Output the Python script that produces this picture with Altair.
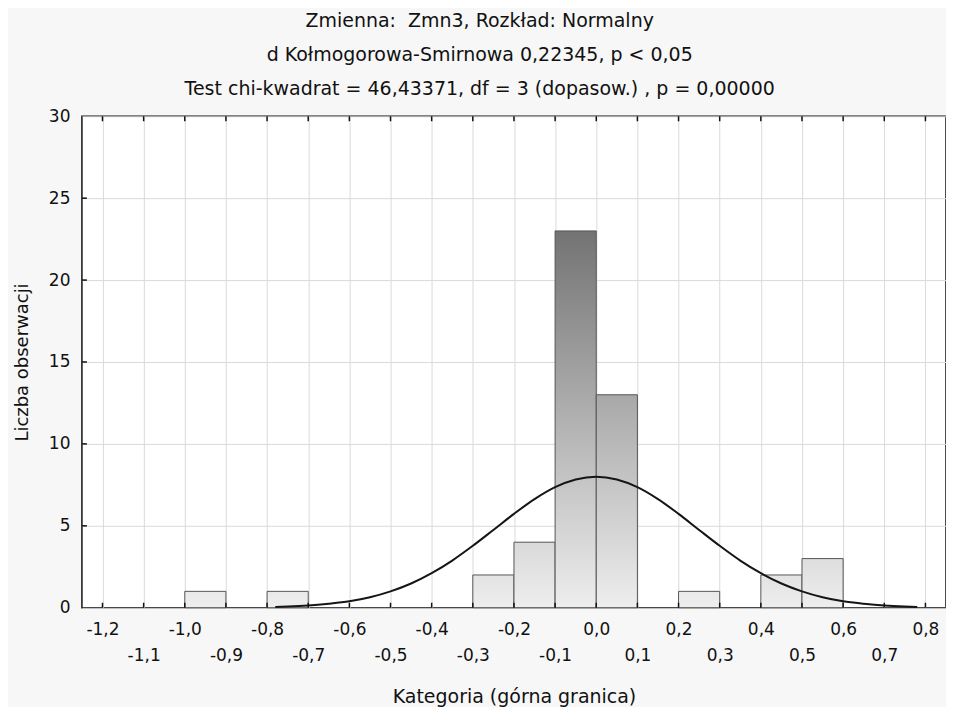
import altair as alt
import pandas as pd

# ---- data ----
bin_lo = [-1.0, -0.8, -0.3, -0.2, -0.1, 0.0, 0.2, 0.4, 0.5]
bin_hi = [-0.9, -0.7, -0.2, -0.1, 0.0, 0.1, 0.3, 0.5, 0.6]
counts = [1, 1, 2, 4, 23, 13, 1, 2, 3]

curve_x = [-0.78, -0.75, -0.70, -0.65, -0.60, -0.55, -0.50, -0.45, -0.40, -0.35,
           -0.30, -0.25, -0.20, -0.15, -0.10, -0.05, 0.00, 0.05, 0.10, 0.15,
           0.20, 0.25, 0.30, 0.35, 0.40, 0.45, 0.50, 0.55, 0.60, 0.65, 0.70,
           0.75, 0.78]
curve_y = [0.05, 0.07, 0.13, 0.24, 0.39, 0.64, 1.00, 1.48, 2.11, 2.88,
           3.78, 4.75, 5.73, 6.63, 7.36, 7.83, 8.00, 7.83, 7.36, 6.63,
           5.73, 4.75, 3.78, 2.88, 2.11, 1.48, 1.00, 0.64, 0.39, 0.24, 0.13,
           0.07, 0.05]

x_ticks = [-1.2, -1.1, -1.0, -0.9, -0.8, -0.7, -0.6, -0.5, -0.4, -0.3, -0.2,
           -0.1, 0.0, 0.1, 0.2, 0.3, 0.4, 0.5, 0.6, 0.7, 0.8]
y_ticks = [0, 5, 10, 15, 20, 25, 30]

title_lines = [
    "Zmienna:\u00a0 Zmn3, Rozkład: Normalny",
    "d Kołmogorowa-Smirnowa 0,22345, p < 0,05",
    "Test chi-kwadrat = 46,43371, df = 3 (dopasow.) , p = 0,00000",
]
x_title = "Kategoria (górna granica)"
y_title = "Liczba obserwacji"

FONT = "DejaVu Sans"
W, H = 865, 492

bars = pd.DataFrame({"i": list(range(len(counts))), "lo": bin_lo, "hi": bin_hi, "count": counts})
curve = pd.DataFrame({"cx": curve_x, "cy": curve_y})
xt = pd.DataFrame({"t": x_ticks})
yt = pd.DataFrame({"v": y_ticks[1:-1]})

xs = alt.Scale(domain=[-1.25, 0.85], nice=False, zero=False)
ys = alt.Scale(domain=[0, 30], nice=False)

x_axis = alt.Axis(
    values=x_ticks, title=x_title, grid=True, gridColor="#dadada", gridWidth=1,
    ticks=False, domain=False, labelOverlap=False, labelFlush=False,
    labelExpr="replace(replace(format(datum.value, '.1f'), '.', ','), '\u2212', '-')",
    labelFont=FONT, labelFontSize=17, labelColor="#111",
    labelPadding={"condition": {"test": "abs(round(datum.value*10)) % 2 == 1", "value": 40}, "value": 14},
    titleFont=FONT, titleFontSize=19, titleFontWeight="normal", titleColor="#111", titlePadding=24,
)
y_axis = alt.Axis(
    values=y_ticks, title=y_title, grid=True, gridColor="#dadada", gridWidth=1,
    ticks=False, domain=False, labelPadding=12, format="d",
    labelFont=FONT, labelFontSize=17, labelColor="#111",
    titleFont=FONT, titleFontSize=18, titleFontWeight="normal", titleColor="#111", titlePadding=17,
)


def shade(v):
    g = int(round(238 - 5.35 * v))
    return "#%02x%02x%02x" % (g, g, g)


layers = []
for i, c in enumerate(counts):
    grad = alt.Gradient(
        gradient="linear", x1=0, y1=0, x2=0, y2=1,
        stops=[alt.GradientStop(offset=0, color=shade(c)),
               alt.GradientStop(offset=1, color=shade(0))],
    )
    layers.append(
        alt.Chart(bars).transform_filter(alt.datum.i == i)
        .mark_bar(fill=grad, stroke="#555555", strokeWidth=1)
        .encode(
            x=alt.X("lo:Q", scale=xs, axis=x_axis),
            x2="hi:Q",
            y=alt.Y("count:Q", scale=ys, axis=y_axis, stack=None),
            y2=alt.datum(0),
        )
    )

line = alt.Chart(curve).mark_line(color="#151515", strokeWidth=2, interpolate="monotone").encode(
    x=alt.X("cx:Q", scale=xs, axis=x_axis),
    y=alt.Y("cy:Q", scale=ys, axis=y_axis),
)

top_ticks = alt.Chart(xt).mark_rule(color="#111", strokeWidth=1.5).encode(
    x=alt.X("t:Q", scale=xs, axis=x_axis), y=alt.value(0), y2=alt.value(5)
)
bot_ticks = alt.Chart(xt).mark_rule(color="#111", strokeWidth=1.5).encode(
    x=alt.X("t:Q", scale=xs, axis=x_axis), y=alt.value(H - 5), y2=alt.value(H)
)
left_ticks = alt.Chart(yt).mark_rule(color="#111", strokeWidth=1.5).encode(
    y=alt.Y("v:Q", scale=ys, axis=y_axis), x=alt.value(0), x2=alt.value(5)
)

chart = alt.layer(*layers, line, top_ticks, bot_ticks, left_ticks).properties(
    width=W, height=H,
    background="#f7f7f7",
    padding={"left": 5, "top": 4, "right": 0, "bottom": 0},
    title=alt.TitleParams(
        text=title_lines, font=FONT, fontSize=19, fontWeight="normal", color="#111",
        lineHeight=34, anchor="middle", frame="bounds", offset=8,
    ),
).configure_view(fill="white", stroke="#111", strokeWidth=1.5)

chart.save("out.html", embed_options={"renderer": "svg", "actions": False})
